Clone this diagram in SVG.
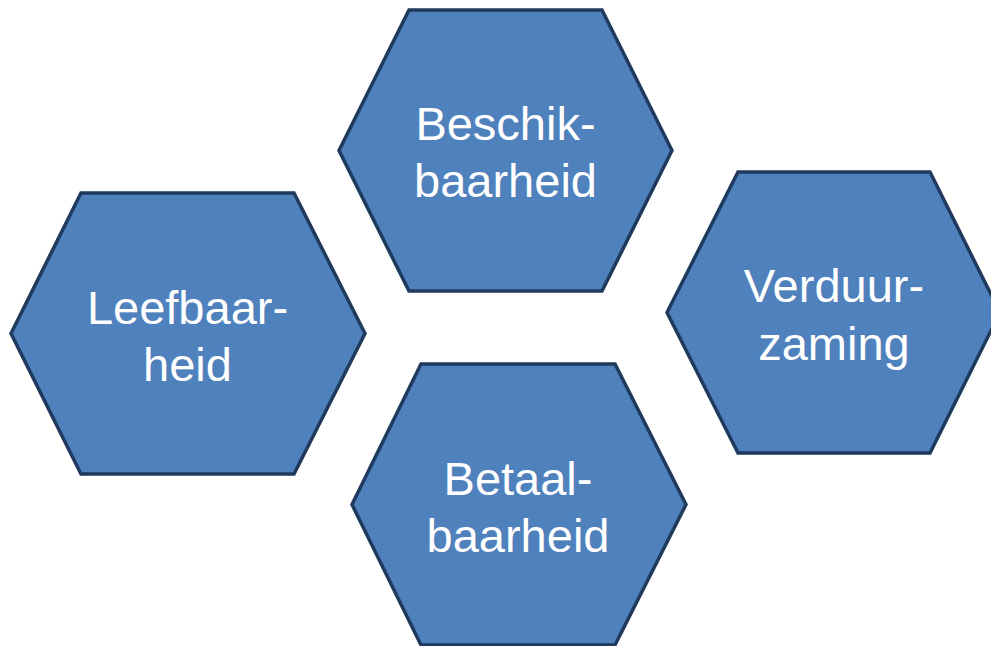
<svg xmlns="http://www.w3.org/2000/svg" width="991" height="646" viewBox="0 0 991 646">
<style>
.hex{fill:#4f81bd;stroke:#1f3a5c;stroke-width:3.5;stroke-linejoin:miter}
.lbl{fill:#ffffff;font-family:"Liberation Sans",Arial,sans-serif;font-size:47px;text-anchor:middle}
</style>
<rect width="991" height="646" fill="#ffffff"/>
<g id="connectors"></g>
<g id="beschikbaarheid">
<polygon class="hex" points="409,10 602,10 672,150.5 602,291 409,291 339,150.5"/>
<text class="lbl" x="505.5" y="139.5">Beschik-</text>
<text class="lbl" x="505.5" y="197">baarheid</text>
</g>
<g id="leefbaarheid">
<polygon class="hex" points="81,193 294,193 365,333.5 294,474 81,474 11,333.5"/>
<text class="lbl" x="187.5" y="324">Leefbaar-</text>
<text class="lbl" x="187.5" y="381">heid</text>
</g>
<g id="verduurzaming">
<polygon class="hex" points="738,172 930,172 1000,312.5 930,453 738,453 667,312.5"/>
<text class="lbl" x="834" y="302">Verduur-</text>
<text class="lbl" x="834" y="359.5">zaming</text>
</g>
<g id="betaalbaarheid">
<polygon class="hex" points="421,364 615,364 686,504.5 615,645 421,645 352,504.5"/>
<text class="lbl" x="518" y="494.5">Betaal-</text>
<text class="lbl" x="518" y="552">baarheid</text>
</g>
</svg>
